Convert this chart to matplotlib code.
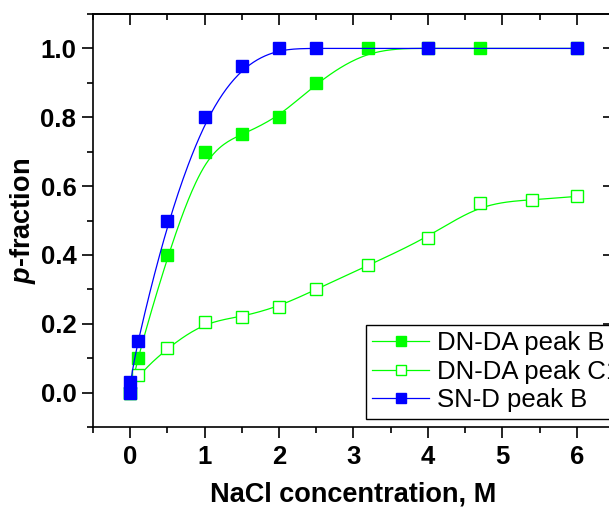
import numpy as np
import matplotlib
matplotlib.use("Agg")
import matplotlib.pyplot as plt
from matplotlib.ticker import MultipleLocator

plt.rcParams['font.family'] = ['Liberation Sans', 'DejaVu Sans']
plt.rcParams['mathtext.fontset'] = 'custom'
plt.rcParams['mathtext.it'] = 'Liberation Sans:italic:bold'
plt.rcParams['mathtext.rm'] = 'Liberation Sans:bold'

# data
x_dnda_b = [0, 0.1, 0.5, 1, 1.5, 2, 2.5, 3.2, 4, 4.7, 6]
y_dnda_b = [0, 0.10, 0.40, 0.70, 0.75, 0.80, 0.90, 1.0, 1.0, 1.0, 1.0]

x_dnda_c1 = [0, 0.1, 0.5, 1, 1.5, 2, 2.5, 3.2, 4, 4.7, 5.4, 6]
y_dnda_c1 = [0, 0.05, 0.13, 0.205, 0.22, 0.25, 0.30, 0.37, 0.45, 0.55, 0.56, 0.57]

x_snd_b = [0, 0, 0.1, 0.5, 1, 1.5, 2, 2.5, 4, 6]
y_snd_b = [0, 0.03, 0.15, 0.50, 0.80, 0.95, 1.0, 1.0, 1.0, 1.0]

labels = ["DN-DA peak B", "DN-DA peak C1", "SN-D peak B"]


def bspline(xs, ys, n=30):
    # uniform cubic B-spline through the points as control polygon (ends clamped)
    p = np.column_stack([xs, ys]).astype(float)
    p = np.vstack([p[0], p[0], p, p[-1], p[-1]])
    out = []
    t = np.linspace(0, 1, n)
    b0 = (1 - t) ** 3 / 6
    b1 = (3 * t**3 - 6 * t**2 + 4) / 6
    b2 = (-3 * t**3 + 3 * t**2 + 3 * t + 1) / 6
    b3 = t**3 / 6
    for i in range(len(p) - 3):
        seg = (b0[:, None] * p[i] + b1[:, None] * p[i + 1]
               + b2[:, None] * p[i + 2] + b3[:, None] * p[i + 3])
        out.append(seg)
    out = np.vstack(out)
    return out[:, 0], out[:, 1]


fig = plt.figure(figsize=(6.09, 5.08), dpi=100)
ax = fig.add_axes([93 / 609, 81 / 508, 521 / 609, 413 / 508])

green = '#00ff00'
blue = '#0000ff'
ms = 8.5

sx, sy = bspline(x_dnda_b, y_dnda_b)
ax.plot(sx, sy, color=green, lw=0.9)
ax.plot(x_dnda_b, y_dnda_b, ls='none', marker='s', ms=ms, color=green, mec=green)

sx, sy = bspline(x_dnda_c1, y_dnda_c1)
ax.plot(sx, sy, color=green, lw=0.9)
ax.plot(x_dnda_c1, y_dnda_c1, ls='none', marker='s', ms=ms, mfc='white', mec=green, mew=1.0)

sx, sy = bspline(x_snd_b, y_snd_b)
ax.plot(sx, sy, color=blue, lw=0.9)
ax.plot(x_snd_b, y_snd_b, ls='none', marker='s', ms=ms, color=blue, mec=blue)

# legend proxies
h1, = ax.plot([], [], color=green, lw=0.9, marker='s', ms=ms, mec=green)
h2, = ax.plot([], [], color=green, lw=0.9, marker='s', ms=ms, mfc='white', mec=green, mew=1.0)
h3, = ax.plot([], [], color=blue, lw=0.9, marker='s', ms=ms, mec=blue)
leg = ax.legend([h1, h2, h3], labels, loc='upper left',
                bbox_to_anchor=(366 / 609, 1 - 325 / 508), bbox_transform=fig.transFigure,
                borderaxespad=0, fontsize=18.5, fancybox=False, framealpha=1,
                edgecolor='black', handlelength=2.2, handletextpad=0.3,
                labelspacing=0.17, borderpad=0.25, markerscale=0.85)
leg.get_frame().set_linewidth(1.0)

ax.set_xlim(-0.5, 6.5)
ax.set_ylim(-0.1, 1.1)
ax.xaxis.set_major_locator(MultipleLocator(1))
ax.xaxis.set_minor_locator(MultipleLocator(0.5))
ax.yaxis.set_minor_locator(MultipleLocator(0.1))
ax.set_yticks([0, 0.2, 0.4, 0.6, 0.8, 1.0])
ax.set_yticklabels(['0.0', '0.2', '0.4', '0.6', '0.8', '1.0'])

ax.tick_params(which='both', direction='out', top=False, right=False, width=1.2,
               labelsize=18.5)
ax.tick_params(axis='x', pad=5)
ax.tick_params(axis='y', pad=4)
ax.tick_params(which='major', length=8)
ax.tick_params(which='minor', length=4.5)
for lab in ax.get_xticklabels() + ax.get_yticklabels():
    lab.set_fontweight('bold')

# inward ticks on top and right (secondary axes without labels)
top = ax.secondary_xaxis('top')
top.xaxis.set_major_locator(MultipleLocator(1))
top.xaxis.set_minor_locator(MultipleLocator(0.5))
top.tick_params(which='both', direction='in', width=1.2, labeltop=False)
top.tick_params(which='major', length=8)
top.tick_params(which='minor', length=4)
right = ax.secondary_yaxis('right')
right.yaxis.set_major_locator(MultipleLocator(0.2))
right.yaxis.set_minor_locator(MultipleLocator(0.1))
right.tick_params(which='major', direction='in', width=1.2, length=8, labelright=False)
right.tick_params(which='minor', length=0)

for s in ax.spines.values():
    s.set_linewidth(1.2)
top.spines['top'].set_linewidth(1.2)
right.spines['right'].set_linewidth(1.2)

ax.set_xlabel('NaCl concentration, M', fontsize=19.5, fontweight='bold', labelpad=9)
ax.set_ylabel('$p$-fraction', fontsize=19.5, fontweight='bold', labelpad=2)

fig.savefig('out.png', dpi=100)
